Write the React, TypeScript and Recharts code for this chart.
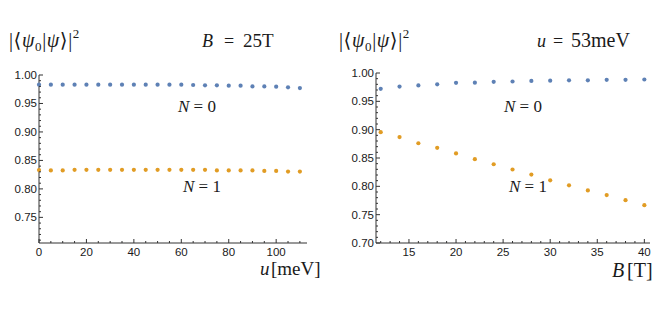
import React from 'react';
import { ScatterChart, Scatter, XAxis, YAxis } from 'recharts';

// ---- data ----
const uValues = [0, 5, 10, 15, 20, 25, 30, 35, 40, 45, 50, 55, 60, 65, 70, 75, 80, 85, 90, 95, 100, 105, 110];
const n0VsU = [0.983, 0.983, 0.983, 0.983, 0.983, 0.983, 0.983, 0.983, 0.983, 0.983, 0.983, 0.983, 0.983, 0.9824, 0.9818, 0.9818, 0.9812, 0.9812, 0.980, 0.980, 0.9795, 0.9783, 0.9771];
const n1VsU = [0.833, 0.8325, 0.8325, 0.8335, 0.8335, 0.8335, 0.8335, 0.8335, 0.8335, 0.8335, 0.8335, 0.8335, 0.8335, 0.8335, 0.8335, 0.8325, 0.8325, 0.8325, 0.8325, 0.8315, 0.8315, 0.8305, 0.8305];

const bValues = [12, 14, 16, 18, 20, 22, 24, 26, 28, 30, 32, 34, 36, 38, 40];
const n0VsB = [0.972, 0.976, 0.978, 0.980, 0.9827, 0.983, 0.9845, 0.985, 0.986, 0.9865, 0.987, 0.987, 0.988, 0.988, 0.9885];
const n1VsB = [0.8955, 0.887, 0.876, 0.868, 0.858, 0.848, 0.839, 0.8297, 0.8207, 0.8106, 0.8017, 0.7928, 0.7845, 0.7756, 0.7668];

const yTicks = [0.70, 0.71, 0.72, 0.73, 0.74, 0.75, 0.76, 0.77, 0.78, 0.79, 0.80, 0.81, 0.82, 0.83, 0.84, 0.85, 0.86, 0.87, 0.88, 0.89, 0.90, 0.91, 0.92, 0.93, 0.94, 0.95, 0.96, 0.97, 0.98, 0.99, 1.00];
const uTicks = [0, 5, 10, 15, 20, 25, 30, 35, 40, 45, 50, 55, 60, 65, 70, 75, 80, 85, 90, 95, 100, 105, 110];
const bTicks = [12, 13, 14, 15, 16, 17, 18, 19, 20, 21, 22, 23, 24, 25, 26, 27, 28, 29, 30, 31, 32, 33, 34, 35, 36, 37, 38, 39, 40];

const BLUE = '#5E81B5';
const ORANGE = '#E19C24';
const AXIS = '#333';
const TEXT = '#1a1a1a';
const SANS = '"Liberation Sans", Arial, sans-serif';
const SERIF = '"Liberation Serif", "DejaVu Serif", serif';

const toPoints = (xs: number[], ys: number[]) => xs.map((x, i) => ({ x, y: ys[i] }));

const dot = (color: string) => (props: any) => (
  <circle cx={props.cx} cy={props.cy} r={2.1} fill={color} />
);

const makeXTick = (isMajor: (v: number) => boolean) => (props: any) => {
  const { x, y, payload } = props;
  const v = payload.value;
  const major = isMajor(v);
  return (
    <g>
      <line x1={x} y1={y} x2={x} y2={y - (major ? 4 : 2)} stroke={AXIS} strokeWidth={1} />
      {major && (
        <text x={x} y={y + 13} textAnchor="middle" fontSize={11.5} fontFamily={SANS} fill={TEXT}>
          {v}
        </text>
      )}
    </g>
  );
};

const makeYTick = (showLabel: (v: number) => boolean) => (props: any) => {
  const { x, y, payload } = props;
  const v = payload.value;
  const hundredths = Math.round(v * 100);
  const major = hundredths % 5 === 0;
  return (
    <g>
      <line x1={x} y1={y} x2={x + (major ? 4 : 2)} y2={y} stroke={AXIS} strokeWidth={1} />
      {major && showLabel(v) && (
        <text x={x - 2} y={y + 4} textAnchor="end" fontSize={11.5} fontFamily={SANS} fill={TEXT}>
          {v.toFixed(2)}
        </text>
      )}
    </g>
  );
};

const Overlap = ({ x, y }: { x: number; y: number }) => (
  <text x={x} y={y} fontFamily={SERIF} fontSize={20} fill={TEXT} letterSpacing={0.6}>
    |⟨<tspan fontStyle="italic">ψ</tspan>
    <tspan fontSize={13} dy={4}>0</tspan>
    <tspan dy={-4}>|</tspan>
    <tspan fontStyle="italic">ψ</tspan>⟩|
    <tspan fontSize={13} dy={-9}>2</tspan>
  </text>
);

const Seg = ({ x, y, size, italic, children }: any) => (
  <text x={x} y={y} fontFamily={SERIF} fontSize={size} fill={TEXT} fontStyle={italic ? 'italic' : 'normal'}>
    {children}
  </text>
);

const NLabel = ({ x, y, n }: { x: number; y: number; n: string }) => (
  <text x={x} y={y} fontFamily={SERIF} fontSize={17} fill={TEXT}>
    <tspan fontStyle="italic">N</tspan> = {n}
  </text>
);

export default function App() {
  const leftData0 = toPoints(uValues, n0VsU);
  const leftData1 = toPoints(uValues, n1VsU);
  const rightData0 = toPoints(bValues, n0VsB);
  const rightData1 = toPoints(bValues, n1VsB);

  return (
    <div style={{ position: 'absolute', left: 0, top: 0, width: 664, height: 309, background: '#fff' }}>
      <div style={{ position: 'absolute', left: 0, top: 0 }}>
        <ScatterChart width={330} height={309} margin={{ top: 75, right: 23, bottom: 36, left: 9 }}>
          <XAxis
            type="number"
            dataKey="x"
            domain={[0, 113]}
            ticks={uTicks}
            interval={0}
            tickSize={0}
            tickMargin={0}
            height={30}
            axisLine={{ stroke: AXIS, strokeWidth: 1 }}
            tickLine={false}
            tick={makeXTick((v) => v % 20 === 0)}
          />
          <YAxis
            type="number"
            dataKey="y"
            domain={[0.705, 1.0]}
            ticks={yTicks.slice(1)}
            interval={0}
            width={30}
            tickSize={0}
            tickMargin={0}
            axisLine={{ stroke: AXIS, strokeWidth: 1 }}
            tickLine={false}
            tick={makeYTick((v) => v > 0.71)}
          />
          <Scatter data={leftData0} fill={BLUE} shape={dot(BLUE)} isAnimationActive={false} />
          <Scatter data={leftData1} fill={ORANGE} shape={dot(ORANGE)} isAnimationActive={false} />
        </ScatterChart>
      </div>
      <div style={{ position: 'absolute', left: 330, top: 0 }}>
        <ScatterChart width={334} height={309} margin={{ top: 73, right: 14, bottom: 36, left: 16 }}>
          <XAxis
            type="number"
            dataKey="x"
            domain={[11.5, 40.6]}
            ticks={bTicks}
            interval={0}
            tickSize={0}
            tickMargin={0}
            height={30}
            axisLine={{ stroke: AXIS, strokeWidth: 1 }}
            tickLine={false}
            tick={makeXTick((v) => v % 5 === 0)}
          />
          <YAxis
            type="number"
            dataKey="y"
            domain={[0.7, 1.0]}
            ticks={yTicks}
            interval={0}
            width={30}
            tickSize={0}
            tickMargin={0}
            axisLine={{ stroke: AXIS, strokeWidth: 1 }}
            tickLine={false}
            tick={makeYTick(() => true)}
          />
          <Scatter data={rightData0} fill={BLUE} shape={dot(BLUE)} isAnimationActive={false} />
          <Scatter data={rightData1} fill={ORANGE} shape={dot(ORANGE)} isAnimationActive={false} />
        </ScatterChart>
      </div>
      <svg width={664} height={309} style={{ position: 'absolute', left: 0, top: 0, pointerEvents: 'none' }}>
        <Overlap x={9} y={47} />
        <Seg x={202} y={47} size={18} italic>B</Seg>
        <Seg x={224} y={47} size={18}>=</Seg>
        <Seg x={243} y={47} size={19}>25T</Seg>
        <NLabel x={178} y={112} n="0" />
        <NLabel x={183} y={192} n="1" />
        <Seg x={260} y={275} size={19} italic>u</Seg>
        <Seg x={271} y={275} size={19}>[meV]</Seg>

        <Overlap x={339} y={47} />
        <Seg x={537} y={47} size={18} italic>u</Seg>
        <Seg x={553} y={47} size={18}>=</Seg>
        <Seg x={571} y={47} size={20}>53meV</Seg>
        <NLabel x={504} y={112} n="0" />
        <NLabel x={509} y={192} n="1" />
        <Seg x={612} y={277} size={20} italic>B</Seg>
        <Seg x={627} y={277} size={20}>[T]</Seg>
      </svg>
    </div>
  );
}
